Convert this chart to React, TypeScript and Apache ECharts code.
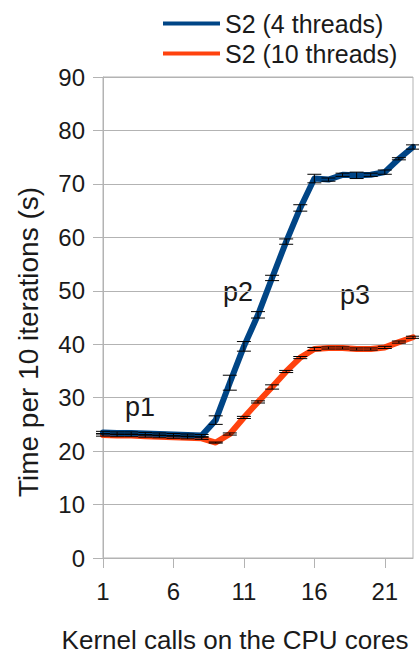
import React, { useEffect, useRef } from "react";
import * as echarts from "echarts";

const categories = ["1","2","3","4","5","6","7","8","9","10","11","12","13","14","15","16","17","18","19","20","21","22","23"];
const threads4 = [23.5, 23.4, 23.4, 23.3, 23.2, 23.1, 23.0, 22.9, 25.8, 32.8, 39.6, 45.5, 52.4, 59.2, 65.5, 71.0, 70.8, 71.7, 71.6, 71.7, 72.2, 74.7, 76.9];
const threads4Err = [0.2, 0.2, 0.2, 0.2, 0.2, 0.2, 0.2, 0.2, 0.8, 1.4, 0.9, 0.6, 0.5, 0.5, 0.6, 0.8, 0.3, 0.3, 0.6, 0.3, 0.4, 0.2, 0.4];
const threads10 = [23.0, 22.9, 22.9, 22.8, 22.7, 22.6, 22.5, 22.4, 21.6, 23.2, 26.3, 29.2, 32.0, 34.9, 37.5, 39.1, 39.3, 39.3, 39.1, 39.1, 39.4, 40.4, 41.3];
const threads10Err = [0.2, 0.2, 0.2, 0.2, 0.2, 0.2, 0.2, 0.2, 0.1, 0.2, 0.2, 0.2, 0.4, 0.2, 0.2, 0.3, 0.2, 0.2, 0.2, 0.2, 0.2, 0.2, 0.2];
const seriesNames = ["S2 (4 threads)", "S2 (10 threads)"];
const phaseLabels = ["p1", "p2", "p3"];

const FONT = "'Liberation Sans', Arial, sans-serif";
const TEXT = "#1a1a1a";
const GRID = "#b3b3b3";

function errData(vals: number[], errs: number[]) {
  return vals.map((v, i) => [i, v - errs[i], v + errs[i]]);
}

function errRender(params: any, api: any) {
  const x = api.value(0);
  const lo = api.coord([x, api.value(1)]);
  const hi = api.coord([x, api.value(2)]);
  const hw = 7;
  const style = { stroke: "#000", lineWidth: 1 };
  return {
    type: "group",
    children: [
      { type: "line", shape: { x1: lo[0], y1: lo[1], x2: hi[0], y2: hi[1] }, style },
      { type: "line", shape: { x1: lo[0] - hw, y1: lo[1], x2: lo[0] + hw, y2: lo[1] }, style },
      { type: "line", shape: { x1: hi[0] - hw, y1: hi[1], x2: hi[0] + hw, y2: hi[1] }, style },
    ],
  };
}

export default function App() {
  const ref = useRef<HTMLDivElement>(null);
  useEffect(() => {
    document.body.style.margin = "0";
    const chart = echarts.init(ref.current!, null, { renderer: "svg" });
    chart.setOption({
      animation: false,
      textStyle: { fontFamily: FONT },
      grid: { left: 103, right: 6, top: 77, bottom: 98, show: true, borderColor: GRID, borderWidth: 1 },
      legend: {
        data: seriesNames,
        orient: "vertical",
        left: 158,
        top: 6,
        itemWidth: 57,
        itemHeight: 4,
        itemGap: 5,
        icon: "rect",
        textStyle: { fontSize: 25, color: TEXT, fontFamily: FONT },
      },
      xAxis: {
        type: "category",
        data: categories,
        boundaryGap: false,
        axisLine: { lineStyle: { color: GRID } },
        axisTick: { interval: 4, length: 10, lineStyle: { color: GRID } },
        axisLabel: { interval: 4, fontSize: 24, color: TEXT, margin: 21, fontFamily: FONT },
        splitLine: { show: false },
      },
      yAxis: {
        type: "value",
        min: 0,
        max: 90,
        interval: 10,
        axisLine: { show: true, lineStyle: { color: GRID } },
        axisTick: { show: true, length: 10, lineStyle: { color: GRID } },
        axisLabel: { fontSize: 24, color: TEXT, margin: 18, fontFamily: FONT },
        splitLine: { lineStyle: { color: GRID } },
      },
      graphic: [
        { type: "text", x: 28, y: 342, rotation: Math.PI / 2, style: { text: "Time per 10 iterations (s)", fontSize: 28, fill: TEXT, fontFamily: FONT, align: "center", verticalAlign: "middle" } },
        { type: "text", x: 235, y: 640, style: { text: "Kernel calls on the CPU cores", fontSize: 26, fill: TEXT, fontFamily: FONT, align: "center", verticalAlign: "middle" } },
        { type: "text", x: 140, y: 407, style: { text: phaseLabels[0], fontSize: 27, fill: TEXT, fontFamily: FONT, align: "center", verticalAlign: "middle" } },
        { type: "text", x: 238, y: 292, style: { text: phaseLabels[1], fontSize: 27, fill: TEXT, fontFamily: FONT, align: "center", verticalAlign: "middle" } },
        { type: "text", x: 355, y: 295, style: { text: phaseLabels[2], fontSize: 27, fill: TEXT, fontFamily: FONT, align: "center", verticalAlign: "middle" } },
      ],
      series: [
        {
          name: seriesNames[1],
          type: "line",
          data: threads10,
          showSymbol: false,
          color: "#ff420e",
          lineStyle: { width: 6, color: "#ff420e", cap: "round", join: "round" },
          z: 2,
        },
        {
          name: seriesNames[0],
          type: "line",
          data: threads4,
          showSymbol: false,
          color: "#004586",
          lineStyle: { width: 6, color: "#004586", cap: "round", join: "round" },
          z: 3,
        },
        { type: "custom", renderItem: errRender, data: errData(threads10, threads10Err), z: 4, silent: true },
        { type: "custom", renderItem: errRender, data: errData(threads4, threads4Err), z: 5, silent: true },
      ],
    });
    return () => chart.dispose();
  }, []);
  return <div ref={ref} style={{ width: 419, height: 656 }} />;
}
